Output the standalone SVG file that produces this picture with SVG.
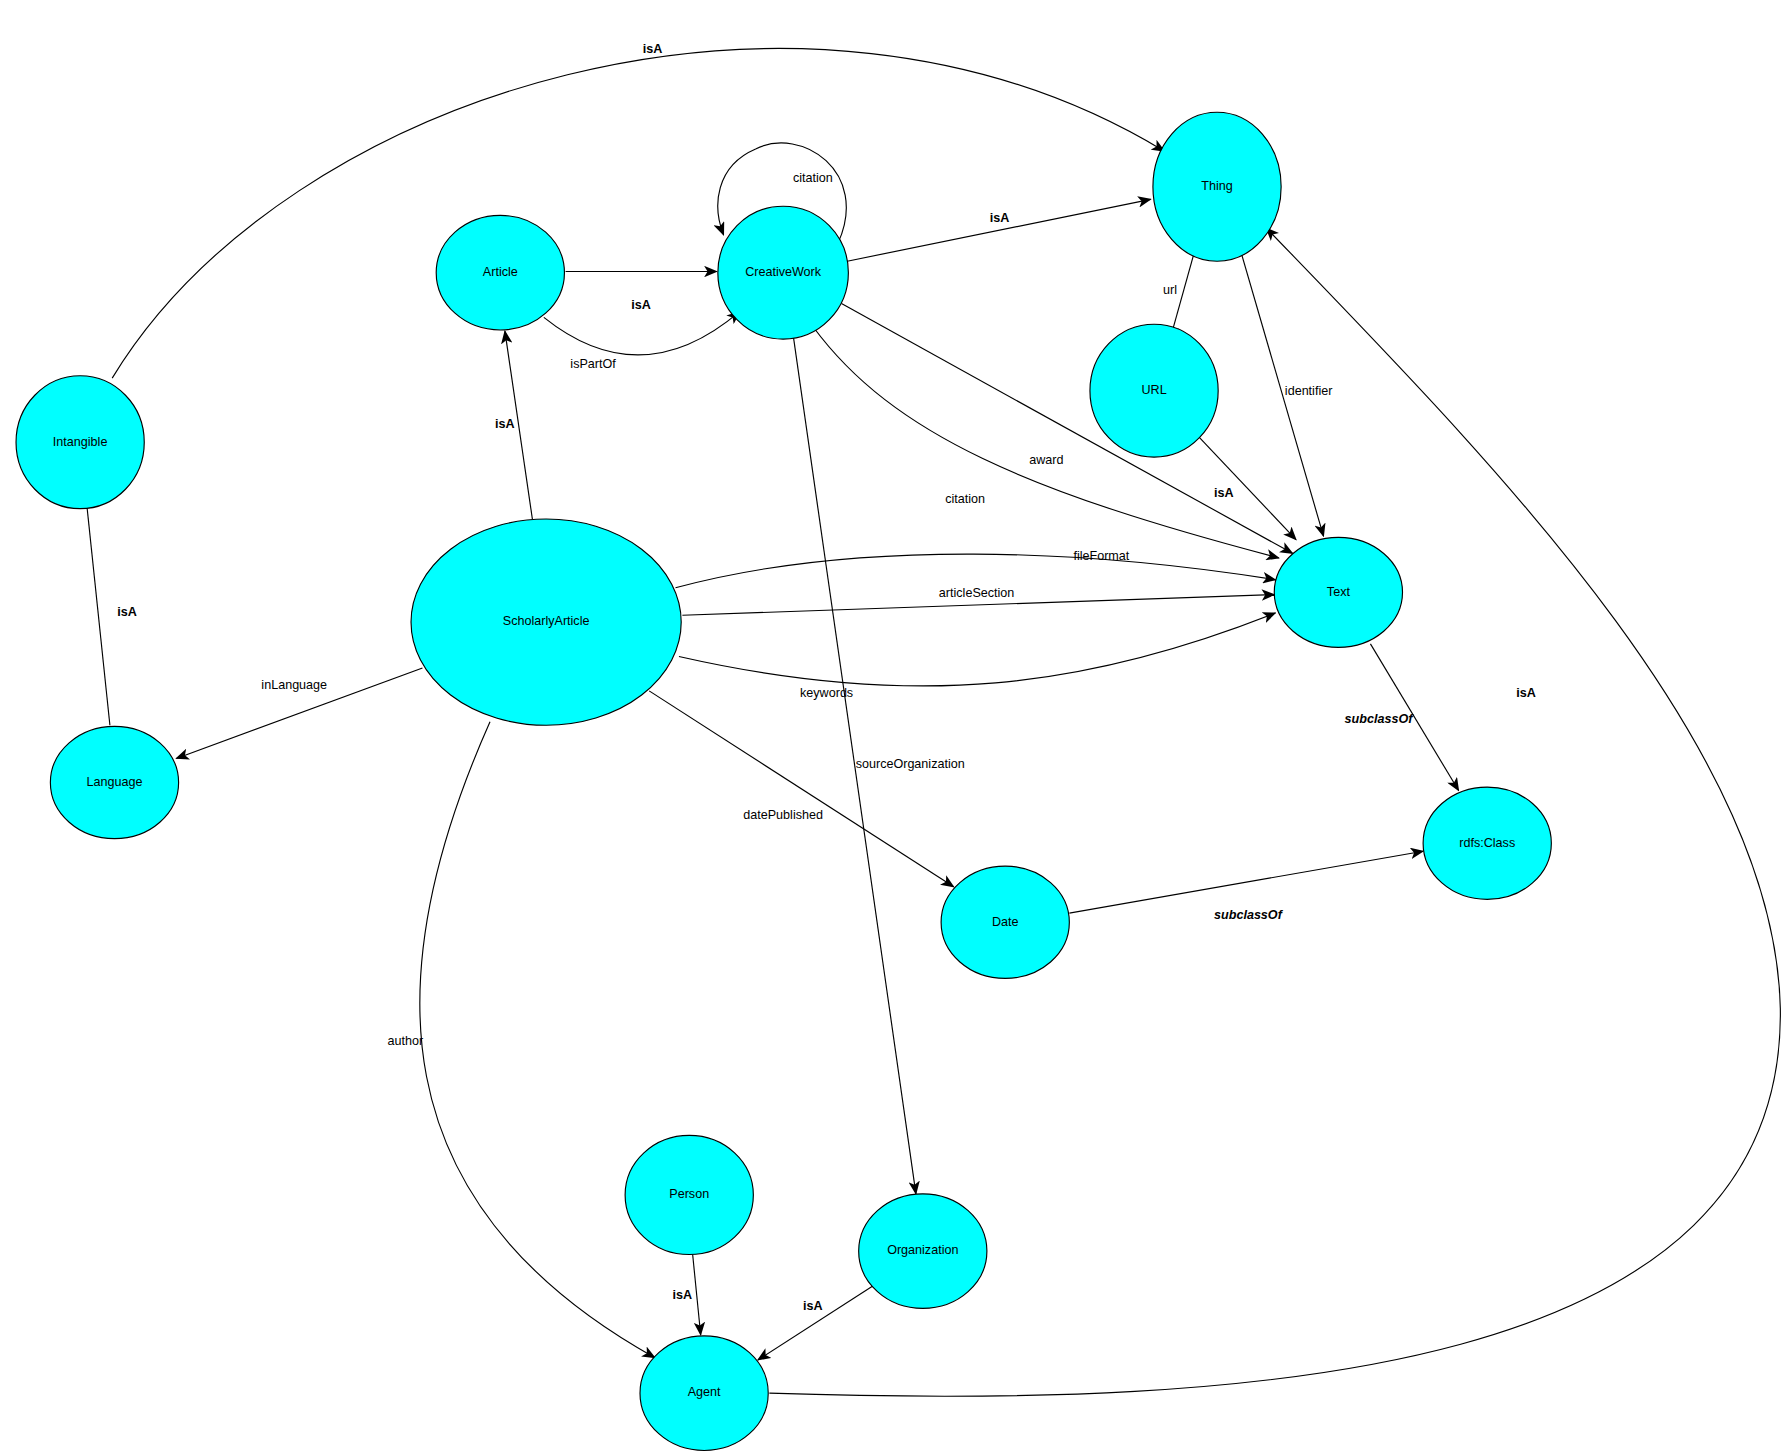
<svg xmlns="http://www.w3.org/2000/svg" width="1786" height="1455" viewBox="0 0 1786 1455">
<style>
.n ellipse{fill:#00ffff;stroke:#000;stroke-width:1}
.n text{font-family:"Liberation Sans",Arial,sans-serif;font-size:11px;text-anchor:middle;dominant-baseline:middle}
.e path{fill:none;stroke:#000;stroke-width:1;marker-end:url(#a)}
.l{font-family:"Liberation Sans",Arial,sans-serif;font-size:11px;text-anchor:middle}
.b{font-weight:bold}
.bi{font-weight:bold;font-style:italic}
</style>
<defs><marker id="a" markerWidth="12" markerHeight="10" refX="11" refY="5" orient="auto" markerUnits="userSpaceOnUse"><path d="M0,0 L12,5 L0,10 L3,5 z" fill="#000"/></marker></defs>
<rect width="1786" height="1455" fill="#fff"/>
<g transform="scale(1.1449,1.1457)">
<g id="connectors" class="e">
<path d="M98,330 C250,80 700,-60 1017,132"/>
<path d="M732,212 C760,150 700,110 660,130 C625,145 622,180 632,205"/>
<path d="M740,228 L1005,174"/>
<path d="M494,237 L626,237"/>
<path d="M475,277 Q560,345 646,272"/>
<path d="M1046,210 L1022,296"/>
<path d="M1081,210 L1156,468"/>
<path d="M1044,378 L1132,471"/>
<path d="M735,265 L1129,483"/>
<path d="M710,285 C780,380 900,430 1117,487"/>
<path d="M465,453 L441,289"/>
<path d="M590,513 C750,470 950,480 1114,506"/>
<path d="M596,537 L1113,519"/>
<path d="M593,573 C800,620 950,600 1114,535"/>
<path d="M692,287 L800,1042"/>
<path d="M369,583 L154,662"/>
<path d="M96,633 L75,433"/>
<path d="M567,603 L833,774"/>
<path d="M1197,562 L1274,690"/>
<path d="M934,797 L1243,743"/>
<path d="M428,630 C330,850 330,1050 572,1185"/>
<path d="M605,1095 L612,1165"/>
<path d="M763,1122 L662,1187"/>
<path d="M672,1216 C1100,1230 1560,1200 1555,880 C1550,650 1300,400 1106,199"/>
</g>
<g id="labels">
<text class="l b" x="570" y="46">isA</text>
<text class="l" x="710" y="159">citation</text>
<text class="l b" x="873" y="194">isA</text>
<text class="l b" x="560" y="270">isA</text>
<text class="l" x="518" y="321">isPartOf</text>
<text class="l" x="1022" y="257">url</text>
<text class="l" x="1143" y="345">identifier</text>
<text class="l b" x="1069" y="434">isA</text>
<text class="l" x="914" y="405">award</text>
<text class="l" x="843" y="439">citation</text>
<text class="l b" x="441" y="374">isA</text>
<text class="l" x="962" y="489">fileFormat</text>
<text class="l" x="853" y="521">articleSection</text>
<text class="l" x="722" y="608">keywords</text>
<text class="l" x="795" y="670">sourceOrganization</text>
<text class="l" x="257" y="601">inLanguage</text>
<text class="l b" x="111" y="538">isA</text>
<text class="l" x="684" y="715">datePublished</text>
<text class="l bi" x="1204" y="631">subclassOf</text>
<text class="l bi" x="1090" y="802">subclassOf</text>
<text class="l" x="354" y="912">author</text>
<text class="l b" x="596" y="1134">isA</text>
<text class="l b" x="710" y="1143">isA</text>
<text class="l b" x="1333" y="608">isA</text>
</g>
<g id="Thing" class="n"><ellipse cx="1063" cy="163" rx="56" ry="65"/><text x="1063" y="163">Thing</text></g>
<g id="Article" class="n"><ellipse cx="437" cy="238" rx="56" ry="50"/><text x="437" y="238">Article</text></g>
<g id="CreativeWork" class="n"><ellipse cx="684" cy="238" rx="57" ry="58"/><text x="684" y="238">CreativeWork</text></g>
<g id="URL" class="n"><ellipse cx="1008" cy="341" rx="56" ry="58"/><text x="1008" y="341">URL</text></g>
<g id="Intangible" class="n"><ellipse cx="70" cy="386" rx="56" ry="58"/><text x="70" y="386">Intangible</text></g>
<g id="ScholarlyArticle" class="n"><ellipse cx="477" cy="543" rx="118" ry="90"/><text x="477" y="543">ScholarlyArticle</text></g>
<g id="Text" class="n"><ellipse cx="1169" cy="517" rx="56" ry="48"/><text x="1169" y="517">Text</text></g>
<g id="Language" class="n"><ellipse cx="100" cy="683" rx="56" ry="49"/><text x="100" y="683">Language</text></g>
<g id="rdfsClass" class="n"><ellipse cx="1299" cy="736" rx="56" ry="49"/><text x="1299" y="736">rdfs:Class</text></g>
<g id="Date" class="n"><ellipse cx="878" cy="805" rx="56" ry="49"/><text x="878" y="805">Date</text></g>
<g id="Person" class="n"><ellipse cx="602" cy="1043" rx="56" ry="52"/><text x="602" y="1043">Person</text></g>
<g id="Organization" class="n"><ellipse cx="806" cy="1092" rx="56" ry="50"/><text x="806" y="1092">Organization</text></g>
<g id="Agent" class="n"><ellipse cx="615" cy="1216" rx="56" ry="50"/><text x="615" y="1216">Agent</text></g>
</g>
</svg>
